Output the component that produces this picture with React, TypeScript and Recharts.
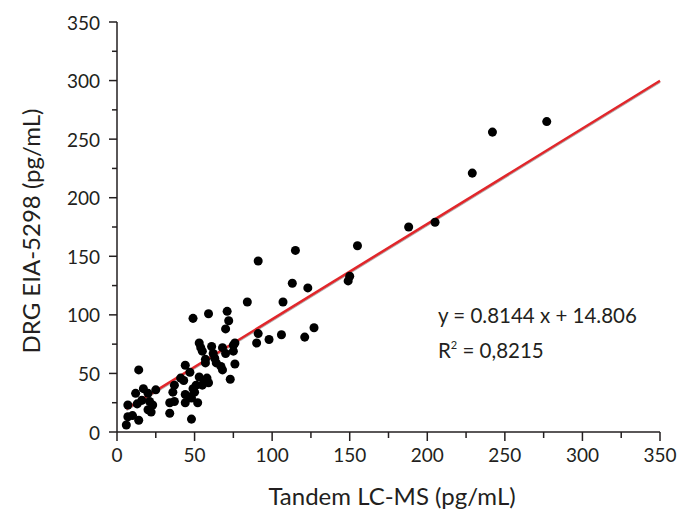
import React from 'react';
import {
  ScatterChart,
  Scatter,
  XAxis,
  YAxis,
  ZAxis,
  ReferenceLine,
  Customized,
} from 'recharts';

// LC-MS (x) vs DRG EIA-5298 (y), pg/mL
const lcms = [
  6, 7, 7, 10, 12, 14, 14, 17, 16, 20, 21, 20, 22, 25, 13, 23,
  34, 34, 37, 36, 37, 41, 43, 44, 47, 44, 47, 44, 48, 48, 49, 50, 49,
  51, 52, 53, 55, 56, 58, 59, 53, 54, 55, 57, 57, 61, 62, 63, 64, 59,
  67, 68, 68, 70, 70, 72, 71, 73, 75, 75, 76, 76,
  84, 91, 91, 90, 98, 106, 107, 113, 115, 123, 121, 127,
  149, 150, 155, 188, 205, 229, 242, 277,
];
const eia = [
  6, 13, 23, 14, 33, 53, 10, 37, 27, 33, 26, 19, 17, 36, 24, 23,
  16, 25, 26, 34, 40, 46, 44, 57, 51, 32, 30, 25, 29, 11, 37, 34, 97,
  40, 25, 47, 40, 44, 46, 42, 76, 72, 69, 62, 59, 73, 67, 63, 59, 101,
  56, 53, 72, 67, 88, 95, 103, 45, 74, 69, 58, 76,
  111, 146, 84, 76, 79, 83, 111, 127, 155, 123, 81, 89,
  129, 133, 159, 175, 179, 221, 256, 265,
];

// regression line end points
const fitX = [6, 350];
const fitY = [19.7, 299.8];

const axisTicks = [0, 25, 50, 75, 100, 125, 150, 175, 200, 225, 250, 275, 300, 325, 350];
const equation = 'y = 0.8144 x + 14.806';
const rSquared = ' = 0,8215';

const points = lcms.map((x, i) => ({ x, y: eia[i] }));

const INK = '#231f20';
const FONT = 'Lato, "Open Sans", sans-serif';

const YTick = ({ x, y, payload }: any) => {
  const major = payload.value % 50 === 0;
  return (
    <g>
      <line x1={x} x2={x - (major ? 8 : 5)} y1={y} y2={y} stroke={INK} strokeWidth={1.5} />
      {major && (
        <text x={x - 17} y={y} textAnchor="end" dominantBaseline="central" fill={INK} fontSize={19} fontFamily={FONT}>
          {payload.value}
        </text>
      )}
    </g>
  );
};

const XTick = ({ x, y, payload }: any) => {
  const major = payload.value % 50 === 0;
  return (
    <g>
      <line x1={x} x2={x} y1={y} y2={y + (major ? 9 : 6)} stroke={INK} strokeWidth={1.5} />
      {major && (
        <text x={x} y={y + 30} textAnchor="middle" fill={INK} fontSize={19} fontFamily={FONT}>
          {payload.value}
        </text>
      )}
    </g>
  );
};

const Titles = () => (
  <g fontFamily={FONT} fill={INK}>
    <text x={392} y={505} textAnchor="middle" fontSize={24}>Tandem LC-MS (pg/mL)</text>
    <text x={0} y={0} transform="translate(40,231) rotate(-90)" textAnchor="middle" fontSize={24}>
      DRG EIA-5298 (pg/mL)
    </text>
    <text x={438} y={323} fontSize={20.5}>{equation}</text>
    <text x={438} y={358} fontSize={20.5}>
      R<tspan fontSize={11} dy={-9}>2</tspan><tspan dy={9}>{rSquared}</tspan>
    </text>
  </g>
);

export default function App() {
  return (
    <div style={{ position: 'absolute', left: 0, top: 0, width: 700, height: 518, background: '#fff' }}>
      <ScatterChart width={700} height={518} margin={{ top: 22, right: 40, left: 57, bottom: 46 }}>
        <defs>
          <filter id="lineShadow" x="-5%" y="-5%" width="110%" height="120%">
            <feDropShadow dx="0" dy="1" stdDeviation="0.5" floodColor="#555" floodOpacity={0.5} />
          </filter>
        </defs>
        <XAxis
          type="number"
          dataKey="x"
          domain={[0, 350]}
          ticks={axisTicks}
          interval={0}
          height={40}
          tickSize={0}
          tickMargin={0}
          tickLine={false}
          axisLine={{ stroke: INK, strokeWidth: 1.5 }}
          tick={<XTick />}
        />
        <YAxis
          type="number"
          dataKey="y"
          domain={[0, 350]}
          ticks={axisTicks}
          interval={0}
          width={60}
          tickSize={0}
          tickMargin={0}
          tickLine={false}
          axisLine={{ stroke: INK, strokeWidth: 1.5 }}
          tick={<YTick />}
        />
        <ZAxis range={[72, 72]} />
        <Scatter data={points} fill="#000" shape="circle" isAnimationActive={false} />
        <ReferenceLine
          segment={[
            { x: fitX[0], y: fitY[0] },
            { x: fitX[1], y: fitY[1] },
          ]}
          stroke="#e1262c"
          strokeWidth={2.5}
          filter="url(#lineShadow)"
          ifOverflow="visible"
        />
        <Customized component={Titles} />
      </ScatterChart>
    </div>
  );
}
